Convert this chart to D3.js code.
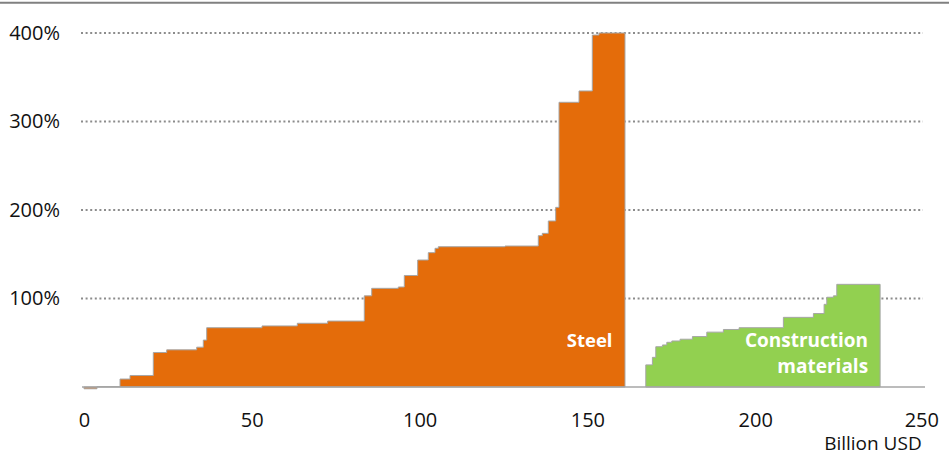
<!DOCTYPE html>
<html>
<head>
<meta charset="utf-8">
<script src="https://cdn.jsdelivr.net/npm/d3@7"></script>
<style>
  html, body { margin: 0; padding: 0; background: #fff; }
  svg { display: block; font-family: "Open Sans", "Liberation Sans", sans-serif; }
</style>
</head>
<body>
<svg id="chart" width="949" height="455"></svg>
<script>
// ---- Data ----
const xTicks = [0, 50, 100, 150, 200, 250];
const yTicks = [100, 200, 300, 400];

// Steel: segment widths (Billion USD) and values (%)
const steelStart = 0;
const steelWidths = [3.87, 6.86, 2.98, 6.94, 3.99, 8.94, 1.97, 1.01, 16.48, 10.52, 9.06, 10.9, 2.21, 7.92, 1.79, 3.99, 3.16, 2.0, 0.98, 19.88, 9.92, 1.19, 1.79, 2.2, 0.99, 5.96, 3.96, 2.0, 7.74];
const steelValues = [-2, 0.5, 9, 13, 39, 42, 45, 53, 67, 69, 72, 74.5, 103, 111.5, 113, 126, 143.5, 151.8, 156.7, 158.5, 159.3, 171, 173.6, 187.6, 203, 321.7, 334.5, 397.7, 400];

// Construction materials
const cmStart = 167.4;
const cmWidths = [1.97, 1.01, 1.97, 1.31, 1.49, 2.47, 3.67, 4.29, 4.94, 4.68, 13.2, 8.94, 3.19, 0.8, 1.97, 1.01, 12.91];
const cmValues = [25, 33.5, 45.5, 47.5, 50.5, 52, 54, 57, 62, 65, 67, 78.7, 83, 93.4, 101.4, 103, 116];

const seriesNames = ["Steel", "Construction materials"];
const xTitle = "Billion USD";

// ---- Chart ----
const svg = d3.select("#chart");
const x = d3.scaleLinear().domain([0, 250]).range([84, 923]);
const y = d3.scaleLinear().domain([0, 400]).range([387, 33]);

// top border line
svg.append("line")
  .attr("x1", 0).attr("x2", 949).attr("y1", 2.7).attr("y2", 2.7)
  .attr("stroke", "#808080").attr("stroke-width", 2);

// gridlines
svg.append("g").selectAll("line").data(yTicks).join("line")
  .attr("x1", 81).attr("x2", 923)
  .attr("y1", d => y(d)).attr("y2", d => y(d))
  .attr("stroke", "#8c8c8c").attr("stroke-width", 2)
  .attr("stroke-dasharray", "2,2.6");

function toPoints(start, widths, values) {
  let cum = start;
  const pts = [];
  widths.forEach((w, i) => { pts.push({ x: cum, v: values[i] }); cum += w; });
  pts.push({ x: cum, v: values[values.length - 1] });
  return pts;
}

const area = d3.area()
  .x(d => x(d.x))
  .y0(y(0))
  .y1(d => y(d.v))
  .curve(d3.curveStepAfter);

const steelPts = toPoints(steelStart, steelWidths, steelValues);
const cmPts = toPoints(cmStart, cmWidths, cmValues);

svg.append("path").datum(steelPts)
  .attr("d", area)
  .attr("fill", "#E46C0A")
  .attr("stroke", "#a6a6a6").attr("stroke-width", 1);

svg.append("path").datum(cmPts)
  .attr("d", area)
  .attr("fill", "#92D050")
  .attr("stroke", "#a6a6a6").attr("stroke-width", 1);

// baseline
svg.append("line")
  .attr("x1", 82).attr("x2", 925).attr("y1", y(0)).attr("y2", y(0))
  .attr("stroke", "#a6a6a6").attr("stroke-width", 1.3);

// x axis
const xAxis = svg.append("g")
  .attr("transform", `translate(0,${y(0)})`)
  .call(d3.axisBottom(x).tickValues(xTicks).tickSize(0).tickPadding(25.8).tickFormat(d3.format("d")));
xAxis.select(".domain").remove();
xAxis.selectAll("text").attr("font-size", 20).attr("fill", "#111").attr("font-family", "Open Sans");
xAxis.selectAll(".tick").filter(d => d === 250).select("text")
  .attr("text-anchor", "end").attr("dx", 15.5);

// y axis
const yAxis = svg.append("g")
  .attr("transform", `translate(84,0)`)
  .call(d3.axisLeft(y).tickValues(yTicks).tickSize(0).tickPadding(24).tickFormat(d => d + "%"));
yAxis.select(".domain").remove();
yAxis.selectAll("text").attr("font-size", 20).attr("fill", "#111").attr("font-family", "Open Sans");

// x title
svg.append("text")
  .attr("x", 921.7).attr("y", 449.5)
  .attr("text-anchor", "end")
  .attr("font-size", 19).attr("fill", "#111")
  .text(xTitle);

// series labels
const steelEnd = steelPts[steelPts.length - 1].x;
svg.append("text")
  .attr("x", x(steelEnd) - 12.5).attr("y", 346.7)
  .attr("text-anchor", "end")
  .attr("font-size", 18.5).attr("font-weight", "bold").attr("fill", "#fff")
  .text(seriesNames[0]);

const cmEnd = cmPts[cmPts.length - 1].x;
const cmLabel = svg.append("text")
  .attr("text-anchor", "end")
  .attr("font-size", 19).attr("font-weight", "bold").attr("fill", "#fff");
cmLabel.append("tspan").attr("x", x(cmEnd) - 12).attr("y", 347.3).text("Construction");
cmLabel.append("tspan").attr("x", x(cmEnd) - 12).attr("y", 373.3).text("materials");
</script>
</body>
</html>
